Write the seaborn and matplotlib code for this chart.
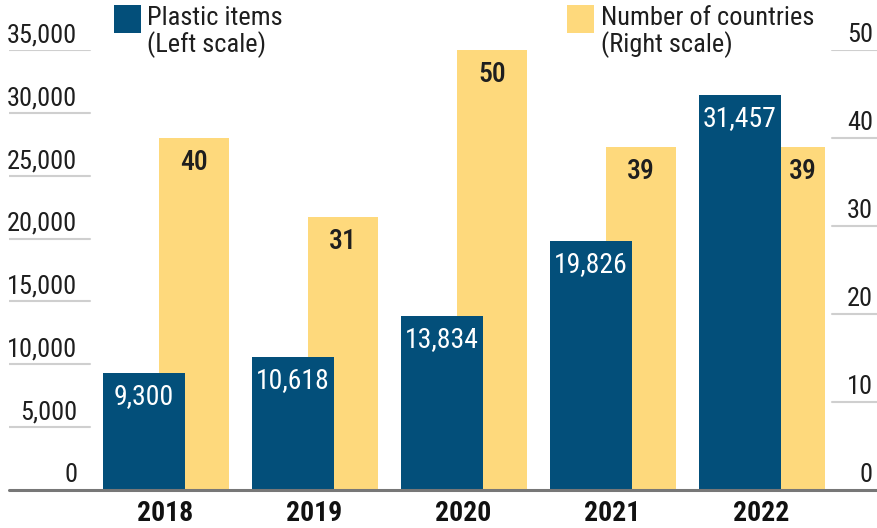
import matplotlib
matplotlib.use("Agg")
import matplotlib.pyplot as plt
import matplotlib.font_manager as fm
from matplotlib.patches import Rectangle
import pandas as pd
import seaborn as sns

# ---- data ----
years = ["2018", "2019", "2020", "2021", "2022"]
plastic_items = [9300, 10618, 13834, 19826, 31457]
countries = [40, 31, 50, 39, 39]
left_ticks = [0, 5000, 10000, 15000, 20000, 25000, 30000, 35000]
right_ticks = [0, 10, 20, 30, 40, 50]
legend_labels = ["Plastic items\n(Left scale)", "Number of countries\n(Right scale)"]

BLUE = "#034f7a"
YELLOW = "#fed97c"
TEXT = "#1e1e1e"
GRID = "#cfcfcf"
BASE = "#777777"

sns.set_style("white")
available = {f.name for f in fm.fontManager.ttflist}
family = "DejaVu Sans"
for cand in ["Roboto Condensed", "Liberation Sans Narrow", "Open Sans Condensed",
             "Noto Sans Condensed", "DejaVu Sans Condensed"]:
    if cand in available:
        family = cand
        break
plt.rcParams["font.family"] = [family, "DejaVu Sans"]
if family == "DejaVu Sans":
    plt.rcParams["font.stretch"] = "condensed"

W, H = 878, 528
fig = plt.figure(figsize=(W / 100, H / 100), dpi=100)


def fx(px):
    return px / W


def fy(py):
    return 1 - py / H


# plot area in pixels
L, R, T, B = 9, 878, 50, 490
ax = fig.add_axes([fx(L), fy(B), (R - L) / W, (B - T) / H])

# bar geometry (category spacing = 1)
STEP, C0 = 149.0, 165.5
B_W, B_OFF = 82 / STEP, -21.5 / STEP
Y_W, Y_OFF = 70 / STEP, 28.5 / STEP

df = pd.DataFrame({"year": years, "items": plastic_items, "countries": countries})

# countries on the base axes (right scale), drawn behind
sns.barplot(data=df, x="year", y="countries", color=YELLOW, saturation=1,
            width=Y_W, ax=ax, linewidth=0)
for p in ax.patches:
    p.set_x(p.get_x() + Y_OFF)

# plastic items on the twin axes (left scale), drawn in front
ax2 = ax.twinx()
sns.barplot(data=df, x="year", y="items", color=BLUE, saturation=1,
            width=B_W, ax=ax2, linewidth=0)
for p in ax2.patches:
    p.set_x(p.get_x() + B_OFF)

ax.set_ylim(0, 50)
ax2.set_ylim(0, 35000)
ax.set_xlim((L - C0) / STEP, (R - C0) / STEP)

for a in (ax, ax2):
    for s in a.spines.values():
        s.set_visible(False)
    a.set_yticks([])
    a.set_xlabel("")
    a.set_ylabel("")
ax2.xaxis.set_visible(False)

ax.set_xticks(range(len(years)))
ax.set_xticklabels(years, fontsize=20, fontweight="bold", color="#111111")
ax.tick_params(axis="x", length=0, pad=7)

# baseline
ax2.axhline(0, color=BASE, lw=2.2, zorder=10, clip_on=False)

# short gridline stubs and scale labels
for v in left_ticks[1:]:
    ax2.axhline(v, xmin=0, xmax=(90 - L) / (R - L), color=GRID, lw=1.5)
for v in left_ticks:
    ax2.annotate(f"{v:,}", xy=((77 - L) / (R - L), v), xycoords=("axes fraction", "data"),
                 xytext=(0, 5.5), textcoords="offset points", ha="right", va="baseline",
                 fontsize=19, color=TEXT)
for v in right_ticks[1:]:
    ax.axhline(v, xmin=(832 - L) / (R - L), xmax=1, color=GRID, lw=1.5)
for v in right_ticks:
    ax.annotate(f"{v:,}", xy=((873 - L) / (R - L), v), xycoords=("axes fraction", "data"),
                xytext=(0, 5.5), textcoords="offset points", ha="right", va="baseline",
                fontsize=19, color=TEXT)

# value labels
blue_patches = list(ax2.patches)
yellow_patches = list(ax.patches)
for p, v in zip(blue_patches, plastic_items):
    ax2.annotate(f"{v:,}", xy=(p.get_x() + p.get_width() / 2, v),
                 xytext=(0, -7.5), textcoords="offset points", ha="center", va="top",
                 fontsize=20, color="white", zorder=12)
for pb, p, v, vb in zip(blue_patches, yellow_patches, countries, plastic_items):
    x0, x1 = p.get_x(), p.get_x() + p.get_width()
    # when the blue bar covers the label height, centre on the visible strip
    if vb / 35000 * 50 > v - 4:
        x0 = pb.get_x() + pb.get_width()
    ax.annotate(f"{v:,}", xy=((x0 + x1) / 2, v),
                xytext=(0, -8), textcoords="offset points", ha="center", va="top",
                fontsize=20, color=TEXT, fontweight="medium")

# legend
for (sx, tx), col, lab in zip([(114, 147), (567, 601)], [BLUE, YELLOW], legend_labels):
    fig.patches.append(Rectangle((fx(sx), fy(33)), 27 / W, 28 / H,
                                 transform=fig.transFigure, color=col, lw=0))
    fig.text(fx(tx), fy(6), lab, ha="left", va="top", fontsize=19, color=TEXT,
             linespacing=1.05)

fig.savefig("out.png", dpi=100)
